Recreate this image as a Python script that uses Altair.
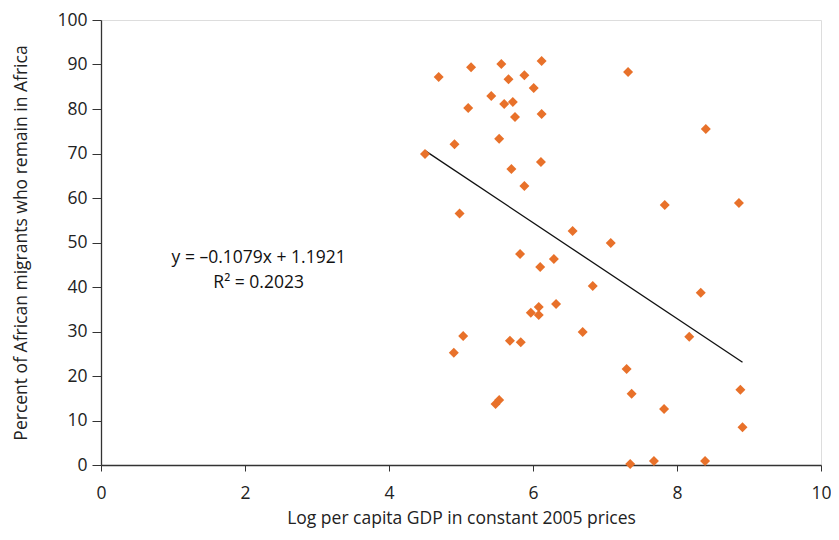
import altair as alt
import pandas as pd

# Scatter data
gdp = [4.50, 4.69, 4.91, 4.98, 4.90, 5.03, 5.14, 5.10, 5.42, 5.56, 5.53, 5.66,
       5.60, 5.72, 5.75, 5.88, 6.01, 6.12, 6.12, 6.11, 5.70, 5.88, 6.55, 7.08,
       5.82, 6.10, 6.29, 6.83, 6.08, 6.32, 5.97, 6.08, 6.69, 5.68, 5.83, 5.48,
       5.53, 7.30, 7.37, 7.35, 7.32, 8.40, 7.83, 8.86, 8.33, 8.17, 8.88, 7.82,
       8.91, 7.68, 8.39]
remain = [69.9, 87.2, 72.1, 56.5, 25.2, 29.0, 89.4, 80.2, 82.9, 90.1, 73.3, 86.7,
          81.1, 81.6, 78.2, 87.6, 84.7, 90.8, 78.9, 68.1, 66.5, 62.7, 52.6, 49.9,
          47.4, 44.5, 46.3, 40.2, 35.5, 36.2, 34.2, 33.7, 29.9, 27.9, 27.6, 13.7,
          14.6, 21.6, 16.0, 0.2, 88.3, 75.5, 58.4, 58.9, 38.7, 28.8, 16.9, 12.6,
          8.5, 0.9, 0.9]

# Trend line (from the printed equation y = -0.1079x + 1.1921, as percent)
slope = -0.1079
intercept = 1.1921
line_x = [4.50, 8.91]
line_y = [100 * (intercept + slope * v) for v in line_x]

eq_text = ["y = \u20130.1079x + 1.1921", "R\u00b2 = 0.2023"]
eq_x = [2.19, 2.19]
eq_y = [46.6, 40.8]

FONT = "Open Sans"
ORANGE = "#E8712A"
FS = 17.5

pts = pd.DataFrame({"x": gdp, "y": remain})
ln = pd.DataFrame({"x": line_x, "y": line_y})
tx = pd.DataFrame({"x": eq_x, "y": eq_y, "t": eq_text})

xs = alt.Scale(domain=[0, 10], nice=False)
ys = alt.Scale(domain=[0, 100], nice=False)

xaxis = alt.Axis(title="Log per capita GDP in constant 2005 prices",
                 values=[0, 2, 4, 6, 8, 10], format="d", grid=False, tickSize=6,
                 labelFlush=False,
                 labelFontSize=FS, titleFontSize=FS, titlePadding=8,
                 labelPadding=13, labelFont=FONT, titleFont=FONT,
                 titleFontWeight="normal", labelColor="#222", titleColor="#222",
                 domainColor="#333", tickColor="#333", domainWidth=1.3)
yaxis = alt.Axis(title="Percent of African migrants who remain in Africa",
                 values=list(range(0, 101, 10)), format="d", grid=False, tickSize=9,
                 labelFlush=False,
                 labelFontSize=FS, titleFontSize=FS, titlePadding=26,
                 labelPadding=5, labelFont=FONT, titleFont=FONT,
                 titleFontWeight="normal", labelColor="#222", titleColor="#222",
                 domainColor="#333", tickColor="#333", domainWidth=1.3)

points = alt.Chart(pts).mark_point(shape="diamond", filled=True, size=100,
                                   color=ORANGE, opacity=1).encode(
    x=alt.X("x:Q", scale=xs, axis=xaxis),
    y=alt.Y("y:Q", scale=ys, axis=yaxis),
)

trend = alt.Chart(ln).mark_line(color="#111", strokeWidth=1.3).encode(
    x=alt.X("x:Q", scale=xs), y=alt.Y("y:Q", scale=ys))

label = alt.Chart(tx).mark_text(font=FONT, fontSize=FS, color="#111",
                                align="center", baseline="middle").encode(
    x=alt.X("x:Q", scale=xs), y=alt.Y("y:Q", scale=ys), text="t:N")

chart = alt.layer(trend, points, label).properties(
    width=720, height=445,
    autosize=alt.AutoSizeParams(type="none"),
    padding={"left": 93, "top": 12, "right": 10, "bottom": 65},
).configure_view(stroke=None).configure(background="white")

chart.save("out.html", embed_options={"renderer": "svg", "actions": False})
